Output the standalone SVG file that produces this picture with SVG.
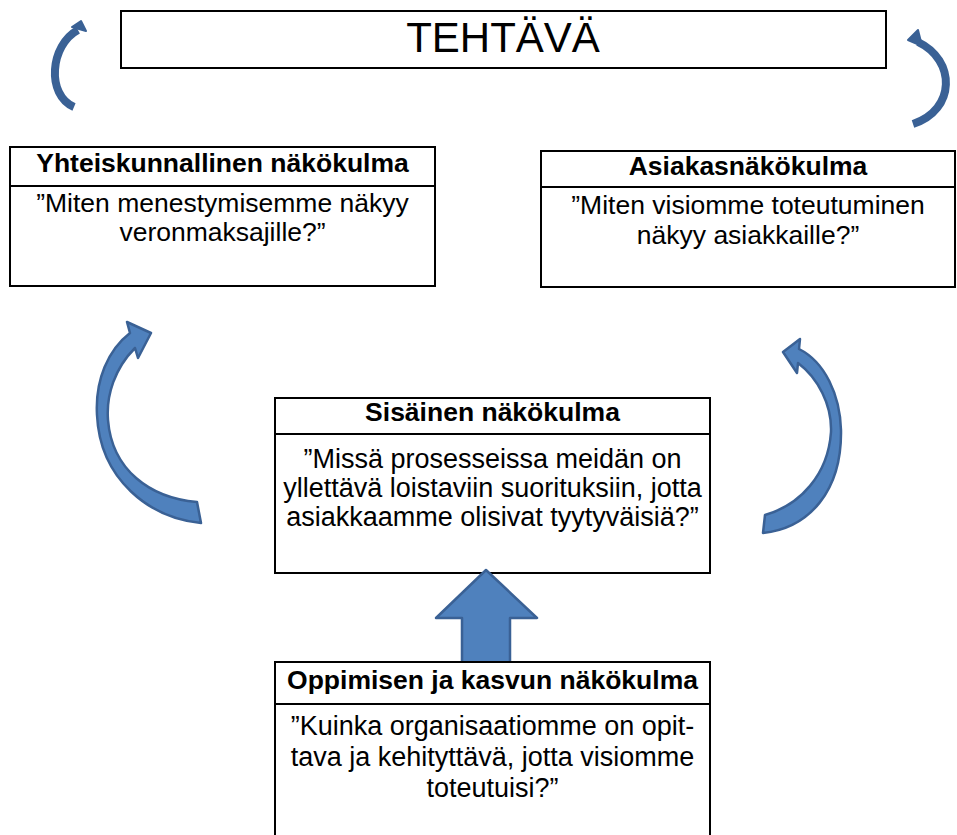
<svg xmlns="http://www.w3.org/2000/svg" width="957" height="835" viewBox="0 0 957 835">
<style>
.box{fill:#fff;stroke:#000;stroke-width:2}
.div{stroke:#000;stroke-width:2}
.t{font-family:"Liberation Sans",Arial,sans-serif;fill:#000;text-anchor:middle}
.h{font-weight:bold;font-size:26.5px}
.b{font-size:26.5px}
.b27{font-size:27px}
.arr{fill:#4F81BD;stroke:#3A6195;stroke-width:2.5;stroke-linejoin:round}
.arc{fill:none;stroke:#3A6195;stroke-width:8}
.head{fill:#3A6195;stroke:#3A6195;stroke-width:2;stroke-linejoin:round}
</style>
<rect width="957" height="835" fill="#fff"/>
<g id="tehtava">
<rect class="box" x="121" y="11" width="765" height="57"/>
<text class="t" x="503" y="52" font-size="42">TEHTÄVÄ</text>
</g>
<g id="yhteiskunnallinen">
<rect class="box" x="10" y="147" width="425" height="139"/>
<line class="div" x1="10" y1="186" x2="435" y2="186"/>
<text class="t h" x="222.5" y="172">Yhteiskunnallinen näkökulma</text>
<text class="t b" x="222.5" y="212">”Miten menestymisemme näkyy</text>
<text class="t b" x="222.5" y="241">veronmaksajille?”</text>
</g>
<g id="asiakas">
<rect class="box" x="541" y="151" width="414" height="136"/>
<line class="div" x1="541" y1="187" x2="955" y2="187"/>
<text class="t h" x="748" y="175">Asiakasnäkökulma</text>
<text class="t b" x="748" y="214">”Miten visiomme toteutuminen</text>
<text class="t b" x="748" y="244">näkyy asiakkaille?”</text>
</g>
<g id="sisainen">
<rect class="box" x="275" y="398" width="435" height="175"/>
<line class="div" x1="275" y1="434" x2="710" y2="434"/>
<text class="t h" x="492.5" y="421" font-size="25.5">Sisäinen näkökulma</text>
<text class="t b27" x="492.5" y="468">”Missä prosesseissa meidän on</text>
<text class="t b27" x="492.5" y="497">yllettävä loistaviin suorituksiin, jotta</text>
<text class="t b27" x="492.5" y="526">asiakkaamme olisivat tyytyväisiä?”</text>
</g>
<g id="connectors">
<path class="arc" d="M78 30 C50 45 46 95 74 107"/>
<path class="head" d="M72 27 L81 21 L86 31 Z"/>
<path class="arc" d="M918 42 C956 60 956 110 913 124"/>
<path class="head" d="M908 40 L918 30 L922 46 Z"/>
<path class="arr" d="M130 333 L127 322 L151 333 L138 358 L135 348 C115 368 106 395 108 420 C112 470 150 498 197 502 L201 523 C150 518 100 480 97 415 C95 380 108 350 130 333 Z"/>
<path class="arr" d="M799 349 L800 339 L783 352 L797 373 L798 363 C818 378 832 405 831 432 C828 475 800 505 765 515 L763 533 C810 528 842 490 841 430 C840 395 825 362 799 349 Z"/>
<path class="arr" d="M486 570 L537 618 L510 618 L510 664 L462 664 L462 618 L436 618 Z"/>
</g>
<g id="oppiminen">
<rect class="box" x="275" y="662" width="435" height="200"/>
<line class="div" x1="275" y1="704" x2="710" y2="704"/>
<text class="t h" x="492.5" y="689" font-size="27.7">Oppimisen ja kasvun näkökulma</text>
<text class="t b27" x="492.5" y="735">”Kuinka organisaatiomme on opit-</text>
<text class="t b27" x="492.5" y="766">tava ja kehityttävä, jotta visiomme</text>
<text class="t b27" x="492.5" y="797">toteutuisi?”</text>
</g>
</svg>
